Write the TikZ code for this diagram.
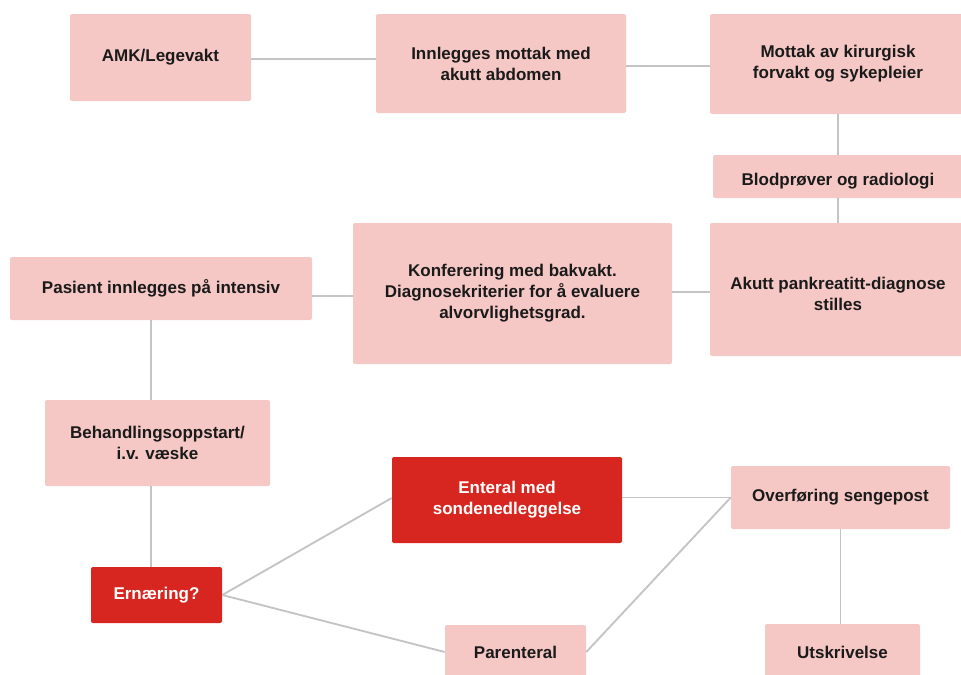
\documentclass[tikz,border=0pt]{standalone}
\usepackage{fontspec}
\setmainfont{Liberation Sans}
\definecolor{boxpink}{HTML}{F5C8C6}
\definecolor{boxred}{HTML}{D7261F}
\definecolor{linegray}{HTML}{C4C4C4}
\definecolor{txt}{HTML}{1A1A1A}
\begin{document}
\begin{tikzpicture}[x=0.75pt,y=-0.75pt,
  box/.style 2 args={rectangle, rounded corners=1.5pt, fill=boxpink, draw=none,
    minimum width=#1*0.75pt, minimum height=#2*0.75pt, inner sep=0pt,
    align=center, text=txt, font=\fontsize{12.75pt}{15.75pt}\selectfont\bfseries},
  redbox/.style 2 args={box={#1}{#2}, fill=boxred, text=white},
  conn/.style={draw=linegray, line width=1.4pt}]
\useasboundingbox (0,0) rectangle (961,675);
\node[box={181}{87}] (amk) at (160.5,57.5) {AMK/Legevakt};
\node[box={250}{99}] (inn) at (501,63.5) {Innlegges mottak med\\akutt abdomen};
\node[box={256}{100}] (mot) at (838,64) {Mottak av kirurgisk\\forvakt og sykepleier};
\node[box={250}{43}] (blod) at (838,176.5) {Blodprøver og radiologi\\[-20pt]};
\node[box={256}{133}] (akutt) at (838,289.5) {Akutt pankreatitt-diagnose\\stilles\\[-23pt]};
\node[box={319}{141}] (konf) at (512.5,293.5) {Konferering med bakvakt.\\Diagnosekriterier for å evaluere\\alvorvlighetsgrad.};
\node[box={302}{63}] (pas) at (161,288.5) {Pasient innlegges på intensiv};
\node[box={225}{86}] (beh) at (157.5,443) {Behandlingsoppstart/\\i.v. væske};
\node[redbox={230}{86}] (ent) at (507,500) {Enteral med\\sondenedleggelse};
\node[box={219}{63}] (ove) at (840.5,497.5) {Overføring sengepost};
\node[redbox={131}{56}] (ern) at (156.5,595) {Ernæring?};
\node[box={141}{54}] (par) at (515.5,652) {Parenteral};
\node[box={155}{56}] (uts) at (842.5,652) {Utskrivelse};
\coordinate (v1) at (151,0);
\draw[conn] ([yshift=-1pt]amk.east) -- ([yshift=-1pt]amk.east -| inn.west);
\draw[conn] ([yshift=-1.8pt]inn.east) -- ([yshift=-1.8pt]inn.east -| mot.west);
\draw[conn] (mot.south) -- (blod.north);
\draw[conn] (blod.south) -- (akutt.north);
\draw[conn] ([yshift=-2pt]akutt.west) -- ([yshift=-2pt]akutt.west -| konf.east);
\draw[conn] ([yshift=-2pt]konf.west) -- ([yshift=-2pt]konf.west -| pas.east);
\draw[conn] (pas.south -| v1) -- (beh.north -| v1);
\draw[conn] (beh.south -| v1) -- (ern.north -| v1);
\draw[conn] (ern.east) -- ([yshift=1.5pt]ent.west);
\draw[conn] (ern.east) -- (par.west);
\draw[conn] (ove.west -| ent.east) -- (ove.west);
\draw[conn] (par.east) -- (ove.west);
\draw[conn] (ove.south) -- (ove.south |- uts.north);
\end{tikzpicture}
\end{document}
